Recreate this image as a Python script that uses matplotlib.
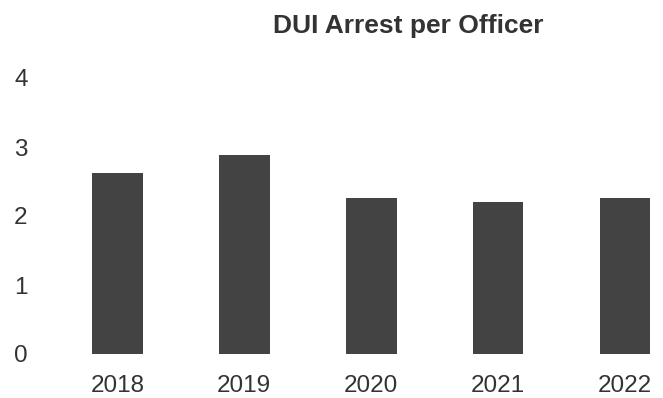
import numpy as np
import matplotlib
matplotlib.use("Agg")
import matplotlib.pyplot as plt

plt.rcParams.update({"font.family": "Liberation Sans"})

years = ["2018", "2019", "2020", "2021", "2022"]
arrests_per_officer = [2.63, 2.89, 2.26, 2.21, 2.26]
y_ticks = [0, 1, 2, 3, 4]

W, H = 663, 398
fig = plt.figure(figsize=(W / 100, H / 100), dpi=100)
# axes placed in pixel terms to line up with the reference
ax = fig.add_axes([54 / W, 44 / H, (W - 54) / W, 276 / H])
x = np.arange(len(years))
ax.bar(x, arrests_per_officer, width=0.4, color="#434343")
ax.set_xlim(-0.5, 4.30)
ax.set_ylim(0, 4)
ax.set_xticks(x)
ax.set_xticklabels(years)
ax.set_yticks(y_ticks)
ax.tick_params(axis="both", length=0, labelsize=17.5, colors="#333333")
ax.tick_params(axis="x", pad=15)
ax.tick_params(axis="y", pad=19)
for s in ax.spines.values():
    s.set_visible(False)
fig.text(408 / W, 1 - 33 / H, "DUI Arrest per Officer", ha="center", va="baseline",
         fontsize=19, fontweight="bold", color="#333333")
fig.savefig("out.png", dpi=100, facecolor="white")
